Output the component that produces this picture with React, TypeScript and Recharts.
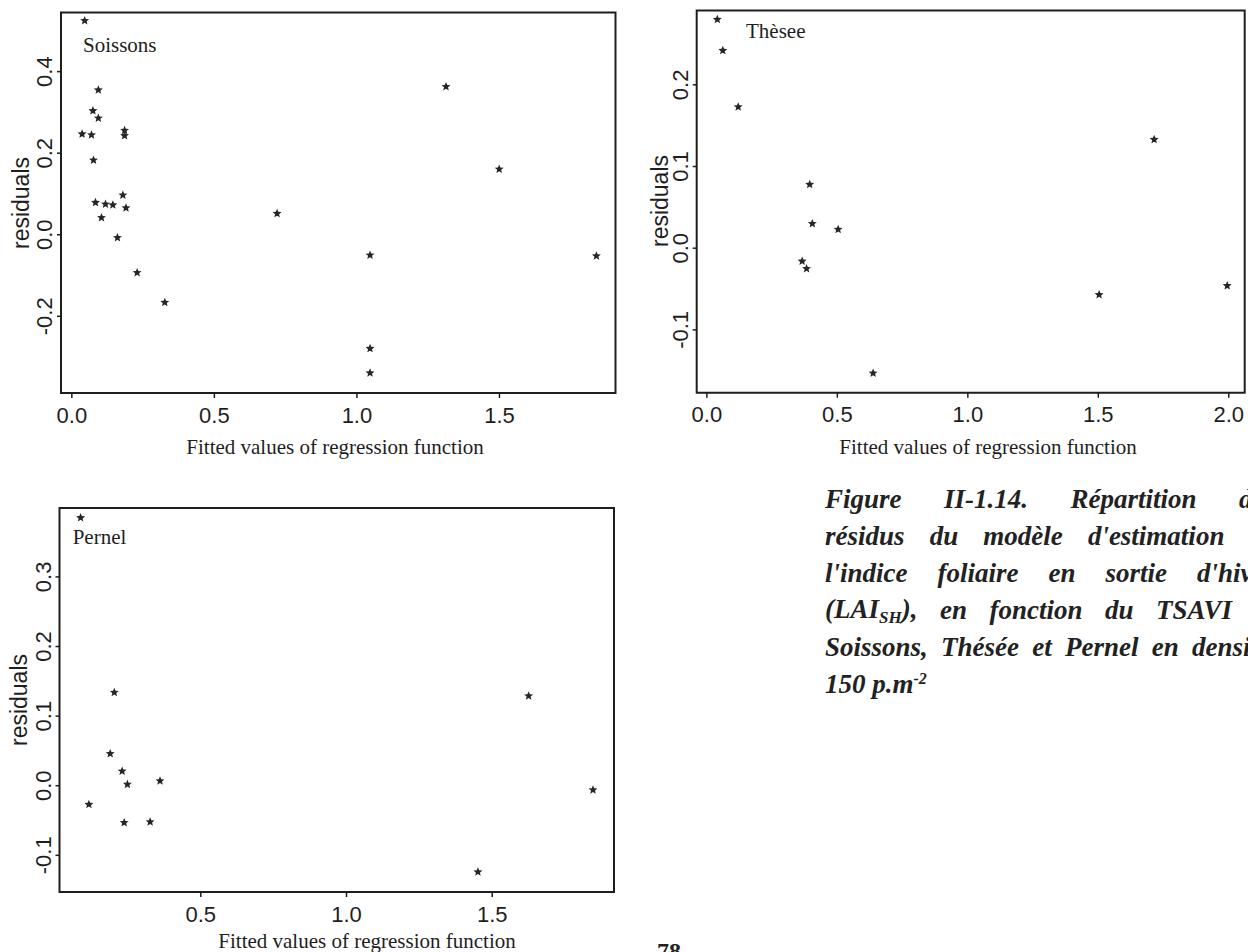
import React from 'react';
import { ScatterChart, Scatter, XAxis, YAxis, ReferenceArea } from 'recharts';

// ---- Data ----
const soissonsFitted = [0.045, 0.093, 0.074, 0.093, 0.036, 0.069, 0.185, 0.185, 0.076, 0.179, 0.083, 0.118, 0.144, 0.19, 0.104, 0.16, 0.229, 0.326, 0.72, 1.3125, 1.499, 1.046, 1.84, 1.046, 1.046];
const soissonsResid = [0.525, 0.355, 0.304, 0.286, 0.247, 0.245, 0.256, 0.243, 0.183, 0.097, 0.079, 0.075, 0.073, 0.066, 0.042, -0.007, -0.093, -0.166, 0.052, 0.363, 0.161, -0.05, -0.052, -0.279, -0.339];

const theseeFitted = [0.04, 0.061, 0.12, 0.394, 0.404, 0.503, 0.365, 0.382, 0.637, 1.503, 1.714, 1.994];
const theseeResid = [0.28, 0.242, 0.173, 0.078, 0.03, 0.023, -0.016, -0.025, -0.153, -0.057, 0.133, -0.046];

const pernelFitted = [0.0875, 0.203, 0.189, 0.23, 0.248, 0.36, 0.116, 0.237, 0.326, 1.451, 1.625, 1.846];
const pernelResid = [0.385, 0.134, 0.046, 0.021, 0.002, 0.007, -0.027, -0.053, -0.052, -0.124, 0.129, -0.006];

const soissonsXTicks = [0, 0.5, 1.0, 1.5];
const soissonsYTicks = [-0.2, 0.0, 0.2, 0.4];
const theseeXTicks = [0, 0.5, 1.0, 1.5, 2.0];
const theseeYTicks = [-0.1, 0.0, 0.1, 0.2];
const pernelXTicks = [0.5, 1.0, 1.5];
const pernelYTicks = [-0.1, 0.0, 0.1, 0.2, 0.3];

const xTitle = 'Fitted values of regression function';
const yTitle = 'residuals';

const captionLines: React.ReactNode[][] = [
  ['Figure', 'II-1.14.', 'Répartition', 'des'],
  ['résidus', 'du', 'modèle', "d'estimation", 'de'],
  ["l'indice", 'foliaire', 'en', 'sortie', "d'hiver"],
  [<span key="lai">(LAI<sub style={{ fontSize: 17, verticalAlign: -5 }}>SH</sub>),</span>, 'en', 'fonction', 'du', 'TSAVI', 'pour'],
  ['Soissons,', 'Thésée', 'et', 'Pernel', 'en', 'densité'],
];

const toTable = (xs: number[], ys: number[]) => xs.map((x, i) => ({ x, y: ys[i] }));

const INK = '#1e1e1e';

const Star = (props: any) => {
  const { cx, cy } = props;
  if (cx == null || cy == null) return null;
  const pts: string[] = [];
  for (let i = 0; i < 10; i++) {
    const r = i % 2 === 0 ? 4.7 : 2.1;
    const a = -Math.PI / 2 + (i * Math.PI) / 5;
    pts.push(`${cx + r * Math.cos(a)},${cy + r * Math.sin(a)}`);
  }
  return <polygon points={pts.join(' ')} fill="#262626" />;
};

const XTick = (props: any) => {
  const { x, y, payload } = props;
  return (
    <text x={x} y={y + 17} textAnchor="middle" dominantBaseline="central"
      style={{ fontFamily: 'Liberation Sans, Arial, sans-serif', fontSize: 22, fill: INK }}>
      {Number(payload.value).toFixed(1)}
    </text>
  );
};

const YTick = (props: any) => {
  const { x, y, payload } = props;
  const tx = x - 12;
  return (
    <text x={tx} y={y} textAnchor="middle" dominantBaseline="central" transform={`rotate(-90 ${tx} ${y})`}
      style={{ fontFamily: 'Liberation Sans, Arial, sans-serif', fontSize: 22, fill: INK }}>
      {Number(payload.value).toFixed(1)}
    </text>
  );
};

type PanelProps = {
  left: number; top: number; width: number; height: number;
  margin: { top: number; right: number; bottom: number; left: number };
  xDomain: [number, number]; yDomain: [number, number];
  xTicks: number[]; yTicks: number[];
  xs: number[]; ys: number[];
};

const Y_AXIS_W = 40;
const X_AXIS_H = 30;

const Panel = (p: PanelProps) => (
  <div style={{ position: 'absolute', left: p.left, top: p.top, width: p.width, height: p.height }}>
    <ScatterChart width={p.width} height={p.height} margin={p.margin}>
      <XAxis type="number" dataKey="x" domain={p.xDomain} ticks={p.xTicks} allowDataOverflow
        axisLine={false} tickSize={5} tickMargin={0} height={X_AXIS_H}
        tickLine={{ stroke: INK, strokeWidth: 1.5 }} tick={<XTick />} interval={0} />
      <YAxis type="number" dataKey="y" domain={p.yDomain} ticks={p.yTicks} allowDataOverflow
        axisLine={false} tickSize={4} tickMargin={0} width={Y_AXIS_W}
        tickLine={{ stroke: INK, strokeWidth: 1.5 }} tick={<YTick />} interval={0} />
      <ReferenceArea x1={p.xDomain[0]} x2={p.xDomain[1]} y1={p.yDomain[0]} y2={p.yDomain[1]}
        fill="none" fillOpacity={0} stroke={INK} strokeWidth={2} ifOverflow="visible" />
      <Scatter data={toTable(p.xs, p.ys)} shape={<Star />} isAnimationActive={false} />
    </ScatterChart>
  </div>
);

const serif = 'Liberation Serif, Times New Roman, serif';
const sans = 'Liberation Sans, Arial, sans-serif';

const Centered = ({ cx, cy, rotate, style, children }: any) => (
  <div style={{
    position: 'absolute', left: cx, top: cy, whiteSpace: 'nowrap', lineHeight: 1,
    transform: `translate(-50%, -50%)${rotate ? ' rotate(-90deg)' : ''}`, color: INK, ...style,
  }}>{children}</div>
);

const LeftText = ({ x, cy, style, children }: any) => (
  <div style={{ position: 'absolute', left: x, top: cy, whiteSpace: 'nowrap', lineHeight: 1, transform: 'translateY(-50%)', color: INK, ...style }}>
    {children}
  </div>
);

const captionWidths = [450, 450, 450, 482, 445];

export default function App() {
  return (
    <div style={{ position: 'fixed', left: 0, top: 0, width: 1248, height: 952, overflow: 'hidden', background: '#fff' }}>
      {/* Soissons */}
      <Panel left={0} top={0} width={640} height={470}
        margin={{ top: 12.5, right: 24.5, bottom: 470 - 393 - X_AXIS_H, left: 61 - Y_AXIS_W }}
        xDomain={[-0.038, 1.907]} yDomain={[-0.388, 0.545]}
        xTicks={soissonsXTicks} yTicks={soissonsYTicks} xs={soissonsFitted} ys={soissonsResid} />
      <LeftText x={83} cy={45} style={{ fontFamily: serif, fontSize: 21 }}>Soissons</LeftText>
      <Centered cx={20.5} cy={203} rotate style={{ fontFamily: sans, fontSize: 23 }}>{yTitle}</Centered>
      <Centered cx={335} cy={447} style={{ fontFamily: serif, fontSize: 21 }}>{xTitle}</Centered>

      {/* Thèsee */}
      <Panel left={640} top={0} width={608} height={470}
        margin={{ top: 10.5, right: 3.3, bottom: 470 - 392.7 - X_AXIS_H, left: 56.7 - Y_AXIS_W }}
        xDomain={[-0.039, 2.061]} yDomain={[-0.1769, 0.291]}
        xTicks={theseeXTicks} yTicks={theseeYTicks} xs={theseeFitted} ys={theseeResid} />
      <LeftText x={746} cy={31} style={{ fontFamily: serif, fontSize: 21 }}>Thèsee</LeftText>
      <Centered cx={660} cy={201} rotate style={{ fontFamily: sans, fontSize: 23 }}>{yTitle}</Centered>
      <Centered cx={988} cy={447} style={{ fontFamily: serif, fontSize: 21 }}>{xTitle}</Centered>

      {/* Pernel */}
      <Panel left={0} top={470} width={640} height={482}
        margin={{ top: 38, right: 26, bottom: 482 - 422 - X_AXIS_H, left: 59.5 - Y_AXIS_W }}
        xDomain={[0.015, 1.918]} yDomain={[-0.1527, 0.399]}
        xTicks={pernelXTicks} yTicks={pernelYTicks} xs={pernelFitted} ys={pernelResid} />
      <LeftText x={72.7} cy={537} style={{ fontFamily: serif, fontSize: 21 }}>Pernel</LeftText>
      <Centered cx={19} cy={700} rotate style={{ fontFamily: sans, fontSize: 23 }}>{yTitle}</Centered>
      <Centered cx={367} cy={941} style={{ fontFamily: serif, fontSize: 21 }}>{xTitle}</Centered>

      {/* Caption */}
      <div style={{ position: 'absolute', left: 825, top: 481, fontFamily: serif, fontWeight: 'bold', fontStyle: 'italic', fontSize: 27, color: '#222' }}>
        {captionLines.map((words, i) => (
          <div key={i} style={{ display: 'flex', justifyContent: 'space-between', width: captionWidths[i], height: 37, alignItems: 'center', whiteSpace: 'nowrap' }}>
            {words.map((w, j) => <span key={j}>{w}</span>)}
          </div>
        ))}
        <div style={{ height: 37, display: 'flex', alignItems: 'center', whiteSpace: 'nowrap' }}>
          <span>150 p.m<sup style={{ fontSize: 16, verticalAlign: 9 }}>-2</sup></span>
        </div>
      </div>

      {/* page number */}
      <div style={{ position: 'absolute', left: 657, top: 939, fontFamily: serif, fontWeight: 'bold', fontSize: 24, lineHeight: 1, color: '#222' }}>78</div>
    </div>
  );
}
